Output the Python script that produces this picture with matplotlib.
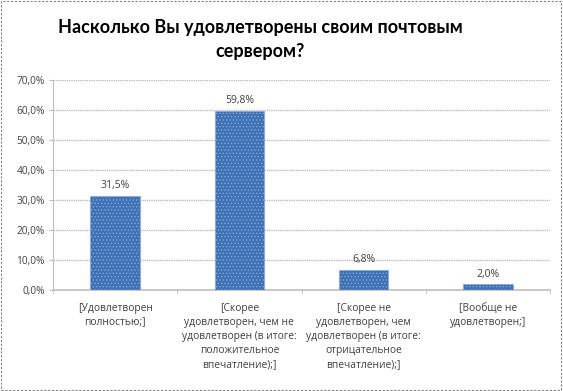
import numpy as np
import matplotlib
matplotlib.use("Agg")
from matplotlib import pyplot as plt
from matplotlib.patches import Rectangle

plt.rcParams['font.family'] = ['Open Sans', 'DejaVu Sans']
plt.rcParams['hatch.linewidth'] = 0.6

title = 'Насколько Вы удовлетворены своим почтовым\nсервером?'
categories = [
    '[Удовлетворен\nполностью;]',
    '[Скорее\nудовлетворен, чем не\nудовлетворен (в итоге:\nположительное\nвпечатление);]',
    '[Скорее не\nудовлетворен, чем\nудовлетворен (в итоге:\nотрицательное\nвпечатление);]',
    '[Вообще не\nудовлетворен;]',
]
values = [31.5, 59.8, 6.8, 2.0]
yticks = [0, 10, 20, 30, 40, 50, 60, 70]

fig = plt.figure(figsize=(5.63, 3.91), dpi=100)
ax = fig.add_axes([53 / 563, 1 - 290 / 391, (550 - 53) / 563, (290 - 80) / 391])

x = np.arange(len(values))
ax.bar(x, values, width=0.4, color='#3F72B5', edgecolor='#7FA6D8',
       hatch='.....', linewidth=0.5, zorder=3)

for xi, v in zip(x, values):
    ax.text(xi, v + 1.5, f'{v:.1f}%'.replace('.', ','), ha='center', va='bottom',
            fontsize=7.5, color='#404040')

ax.set_xlim(-0.5, len(values) - 0.5)
ax.set_ylim(0, 70)
ax.set_yticks(yticks)
ax.set_yticklabels([f'{t:.1f}%'.replace('.', ',') for t in yticks], fontsize=7.3, color='#404040')
ax.set_xticks(x)
ax.set_xticklabels(categories, fontsize=7.4, color='#404040', linespacing=1.38)
ax.set_xticks(np.arange(len(values) + 1) - 0.5, minor=True)
ax.tick_params(axis='x', which='major', length=0, pad=9)
ax.tick_params(axis='x', which='minor', length=3, color='#BFBFBF')
ax.tick_params(axis='y', length=3, color='#BFBFBF', pad=3)

ax.yaxis.grid(True, color='#BFBFBF', linewidth=1.0, linestyle=(0, (1, 0.6)), zorder=0)
for s in ['top', 'right']:
    ax.spines[s].set_visible(False)
ax.spines['left'].set_color('#BFBFBF')
ax.spines['bottom'].set_color('#BFBFBF')
ax.spines['bottom'].set_linewidth(1.2)

fig.text(260 / 563, 1 - 40 / 391, title, ha='center', va='center', fontsize=13,
         fontweight='bold', family=['Lato', 'DejaVu Sans'], color='#000000',
         linespacing=1.5)

fig.patches.append(Rectangle((0.002, 0.003), 0.995, 0.994, transform=fig.transFigure,
                             fill=False, edgecolor='#808080', linewidth=0.8,
                             linestyle=(0, (2, 1.5))))

fig.savefig('out.png', dpi=100)
